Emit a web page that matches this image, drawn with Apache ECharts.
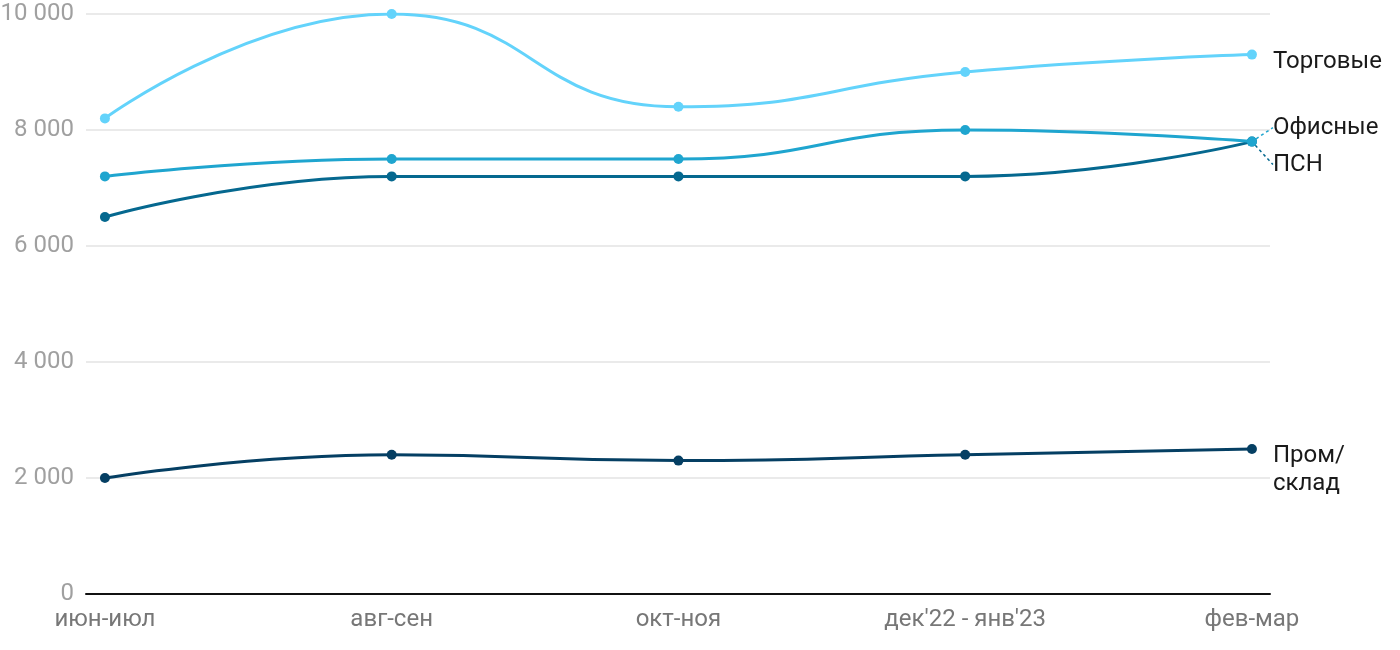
<!DOCTYPE html>
<html>
<head>
<meta charset="utf-8">
<script src="https://cdn.jsdelivr.net/npm/echarts@6/dist/echarts.min.js"></script>
<style>
html,body{margin:0;padding:0;background:#fff;}
#chart{width:1400px;height:650px;}
</style>
</head>
<body>
<div id="chart"></div>
<script>
const categories = ["июн-июл", "авг-сен", "окт-ноя", "дек'22 - янв'23", "фев-мар"];
const yTicks = [0, 2000, 4000, 6000, 8000, 10000];
const seriesNames = ["Торговые", "Офисные", "ПСН", "Пром/\nсклад"];
const torgovye = [8200, 10000, 8400, 9000, 9300];
const ofisnye = [7200, 7500, 7500, 8000, 7800];
const psn = [6500, 7200, 7200, 7200, 7800];
const promSklad = [2000, 2400, 2300, 2400, 2500];

const colors = ["#63d3fb", "#1fa5cf", "#05688f", "#053f63"];
const labelDy = [7, -14, 23, 21];
const allValues = [torgovye, ofisnye, psn, promSklad];

const chart = echarts.init(document.getElementById('chart'));
const series = allValues.map((vals, si) => ({
  type: 'line',
  name: seriesNames[si],
  smooth: 0.5,
  symbol: 'circle',
  symbolSize: 10,
  z: 10 - si,
  lineStyle: {color: colors[si], width: 3},
  itemStyle: {color: colors[si]},
  data: vals.map((v, i) => ({
    value: [i, v],
    label: i === vals.length - 1 ? {show: true} : {show: false}
  })),
  label: {
    position: 'right',
    distance: 16,
    formatter: () => seriesNames[si],
    color: '#1a1a1a',
    fontSize: 24,
    lineHeight: 28,
    fontFamily: 'Roboto'
  },
  labelLine: {
    show: si === 1 || si === 2,
    lineStyle: {color: colors[si], type: [3, 3], width: 1.5}
  },
  labelLayout: {dy: labelDy[si]},
  emphasis: {disabled: true}
}));

chart.setOption({
  animation: false,
  grid: {left: 86, right: 130, top: 14, bottom: 56, outerBoundsMode: 'none', containLabel: false},
  xAxis: {
    type: 'value',
    min: -0.066,
    max: 4.063,
    splitLine: {show: false},
    axisLine: {show: true, onZero: false, lineStyle: {color: '#111', width: 2}},
    axisTick: {show: false},
    axisLabel: {
      customValues: categories.map((c, i) => i),
      formatter: v => categories[Math.round(v)],
      color: '#777',
      fontSize: 24,
      fontFamily: 'Roboto',
      margin: 14
    }
  },
  yAxis: {
    type: 'value',
    min: 0,
    max: 10000,
    interval: 2000,
    axisLine: {show: false},
    axisTick: {show: false},
    splitLine: {lineStyle: {color: '#e3e3e3', width: 1.5}},
    axisLabel: {
      formatter: v => String(v).replace(/\B(?=(\d{3})+(?!\d))/g, ' '),
      color: '#a0a0a0',
      fontSize: 24,
      fontFamily: 'Roboto',
      margin: 12
    }
  },
  series: series
});
</script>
</body>
</html>
